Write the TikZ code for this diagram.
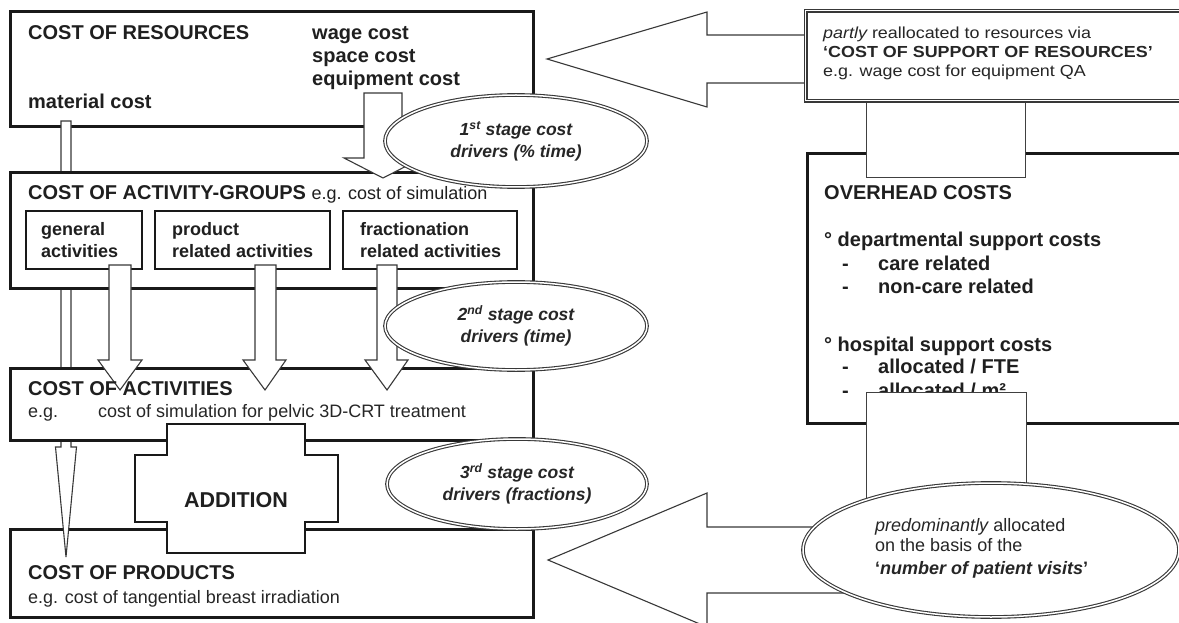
\documentclass[tikz,border=0pt]{standalone}
\usepackage{fontspec}
\setmainfont{Liberation Sans}
\newfontfamily\widesans[FakeStretch=1.12]{Liberation Sans}
\usetikzlibrary{shapes.geometric}
\begin{document}
\begin{tikzpicture}[x=1pt,y=-1pt,
  bigbox/.style={rectangle, draw=black!90, line width=3pt, fill=white, anchor=north west, inner sep=0pt, outer sep=0pt},
  subbox/.style={rectangle, draw=black!90, line width=2pt, fill=white, anchor=north west, inner sep=0pt, outer sep=0pt},
  thinbox/.style={rectangle, draw=black!75, line width=1pt, fill=white, anchor=north west, inner sep=0pt, outer sep=0pt},
  blockarrow/.style={draw=black!78, line width=1.1pt, fill=white, line join=miter},
  dblline/.style={draw=black!78, line width=1.1pt, double=white, double distance=1.5pt},
  stage/.style={ellipse, dblline, fill=white, inner sep=0pt, align=center, font=\fontsize{17.5}{22}\selectfont\bfseries\itshape, text=black!85},
  hd/.style={anchor=base west, inner sep=0pt, font=\fontsize{20}{23}\selectfont\bfseries, text=black!88},
  sb/.style={anchor=base west, inner sep=0pt, font=\fontsize{18}{21}\selectfont\bfseries, text=black!88},
  tx/.style={anchor=base west, inner sep=0pt, font=\fontsize{18}{22}\selectfont, text=black!85},
  sp/.style={anchor=base west, inner sep=0pt, font=\fontsize{16}{19}\selectfont\widesans, text=black!85},
]
\useasboundingbox (0,0) rectangle (1179,623);
\clip (0,0) rectangle (1179,623);
\fill[white] (0,0) rectangle (1179,623);

% right-side block arrows (pointing left)
\draw[blockarrow] (815,35) -- (707,35) -- (707,12) -- (547,59) -- (707,107) -- (707,83) -- (815,83) -- cycle;
\draw[blockarrow] (900,527) -- (707,527) -- (707,493) -- (548,560) -- (707,627) -- (707,593) -- (900,593) -- cycle;

% cost of resources
\node[bigbox, minimum width=523, minimum height=115] (res) at (10,12) {};
\node[hd] (resT) at (28,40) {COST OF RESOURCES};
\node[hd] (wage) at (312,40) {wage cost};
\node[hd] (space) at (312,63) {space cost};
\node[hd] (equip) at (312,86) {equipment cost};
\node[hd] (mat) at (28,109) {material cost};

% cost of products
\node[bigbox, minimum width=523, minimum height=88] (prod) at (10,529) {};
\node[hd] (prodT) at (28,579) {COST OF PRODUCTS};
\node[tx] (prodE) at (28,603) {e.g. cost of tangential breast irradiation};

% material cost arrow
\draw[blockarrow] (61,121) -- (71,121) -- (71,447) -- (76.5,447) -- (66,557) -- (55.5,447) -- (61,447) -- cycle;

% cost of activity-groups
\node[bigbox, minimum width=523, minimum height=115] (grp) at (10,173) {};
\node[anchor=base west, inner sep=0pt, text=black!88] (grpT) at (28,200) {\fontsize{20}{23}\selectfont\bfseries COST OF ACTIVITY-GROUPS \fontsize{18}{22}\selectfont\mdseries e.g. cost of simulation};
\node[subbox, minimum width=116, minimum height=58] (gen) at (26,211) {};
\node[subbox, minimum width=175, minimum height=58] (prd) at (155,211) {};
\node[subbox, minimum width=174, minimum height=58] (frc) at (343,211) {};
\node[sb] at (41,236) {general};
\node[sb] at (41,257) {activities};
\node[sb] at (172,236) {product};
\node[sb] at (172,257) {related activities};
\node[sb] at (360,236) {fractionation};
\node[sb] at (360,257) {related activities};

% cost of activities
\node[bigbox, minimum width=523, minimum height=72] (act) at (10,368) {};

% wage arrow (1st stage)
\draw[blockarrow] (364,93) -- (402,93) -- (402,158) -- (422,158) -- (383,178) -- (344,158) -- (364,158) -- cycle;

% arrows from activity groups
\draw[blockarrow] (109,265) -- (131,265) -- (131,360) -- (142,360) -- (120,390) -- (98,360) -- (109,360) -- cycle;
\draw[blockarrow] (255,265) -- (276,265) -- (276,360) -- (286,360) -- (265,390) -- (243,360) -- (255,360) -- cycle;
\draw[blockarrow] (377,265) -- (397,265) -- (397,360) -- (408,360) -- (387,390) -- (365,360) -- (377,360) -- cycle;

\node[hd] (actT) at (28,395) {COST OF ACTIVITIES};
\node[tx] (actE) at (28,417) {e.g.};
\node[tx] (actE2) at (98,417) {cost of simulation for pelvic 3D-CRT treatment};

% addition
\draw[draw=black!90, line width=2pt, fill=white] (167,424) -- (305,424) -- (305,455) -- (338,455) -- (338,522) -- (305,522) -- (305,553) -- (167,553) -- (167,522) -- (135,522) -- (135,455) -- (167,455) -- cycle;
\node[anchor=base, inner sep=0pt, font=\fontsize{21.5}{24}\selectfont\bfseries, text=black!88] (add) at (236,507) {ADDITION};

% stage ellipses
\node[stage, minimum width=262, minimum height=92] (e1) at (516,141) {1\textsuperscript{st} stage cost\\drivers (\% time)};
\node[stage, minimum width=262, minimum height=88] (e2) at (516,326) {2\textsuperscript{nd} stage cost\\drivers (time)};
\node[stage, minimum width=260, minimum height=90] (e3) at (517,484) {3\textsuperscript{rd} stage cost\\drivers (fractions)};

% overhead costs
\node[bigbox, minimum width=393, minimum height=269] (ovh) at (807,154) {};
\node[hd] at (824,200) {OVERHEAD COSTS};
\node[hd] at (824,247) {° departmental support costs};
\node[hd] at (842,270) {-};
\node[hd] at (878,270) {care related};
\node[hd] at (842,293) {-};
\node[hd] at (878,293) {non-care related};
\node[hd] at (824,351) {° hospital support costs};
\node[hd] at (842,373) {-};
\node[hd] at (878,373) {allocated / FTE};
\node[hd] at (842,397) {-};
\node[hd] at (878,397) {allocated / m²};

% connector rectangles
\node[thinbox, minimum width=159, minimum height=78] (upr) at (866,100) {};
\node[thinbox, minimum width=160, minimum height=130] (lwr) at (866,392) {};

% cost of support of resources
\node[rectangle, anchor=north west, draw=black!78, line width=1.4pt, double=white, double distance=1.5pt, fill=white, minimum width=395, minimum height=90, inner sep=0pt] (sup) at (805,10) {};
\node[sp] at (823,39) {\itshape partly\upshape{} reallocated to resources via};
\node[sp] at (823,58) {\bfseries ‘COST OF SUPPORT OF RESOURCES’};
\node[sp] at (823,77) {e.g. wage cost for equipment QA};

% allocation ellipse
\node[ellipse, dblline, fill=white, minimum width=376, minimum height=134, inner sep=0pt] (e4) at (991,550) {};
\node[tx] at (875,531) {\itshape predominantly\upshape{} allocated};
\node[tx] at (875,551) {on the basis of the};
\node[tx] at (875,574) {\bfseries ‘\itshape number of patient visits\upshape ’};
\end{tikzpicture}
\end{document}
